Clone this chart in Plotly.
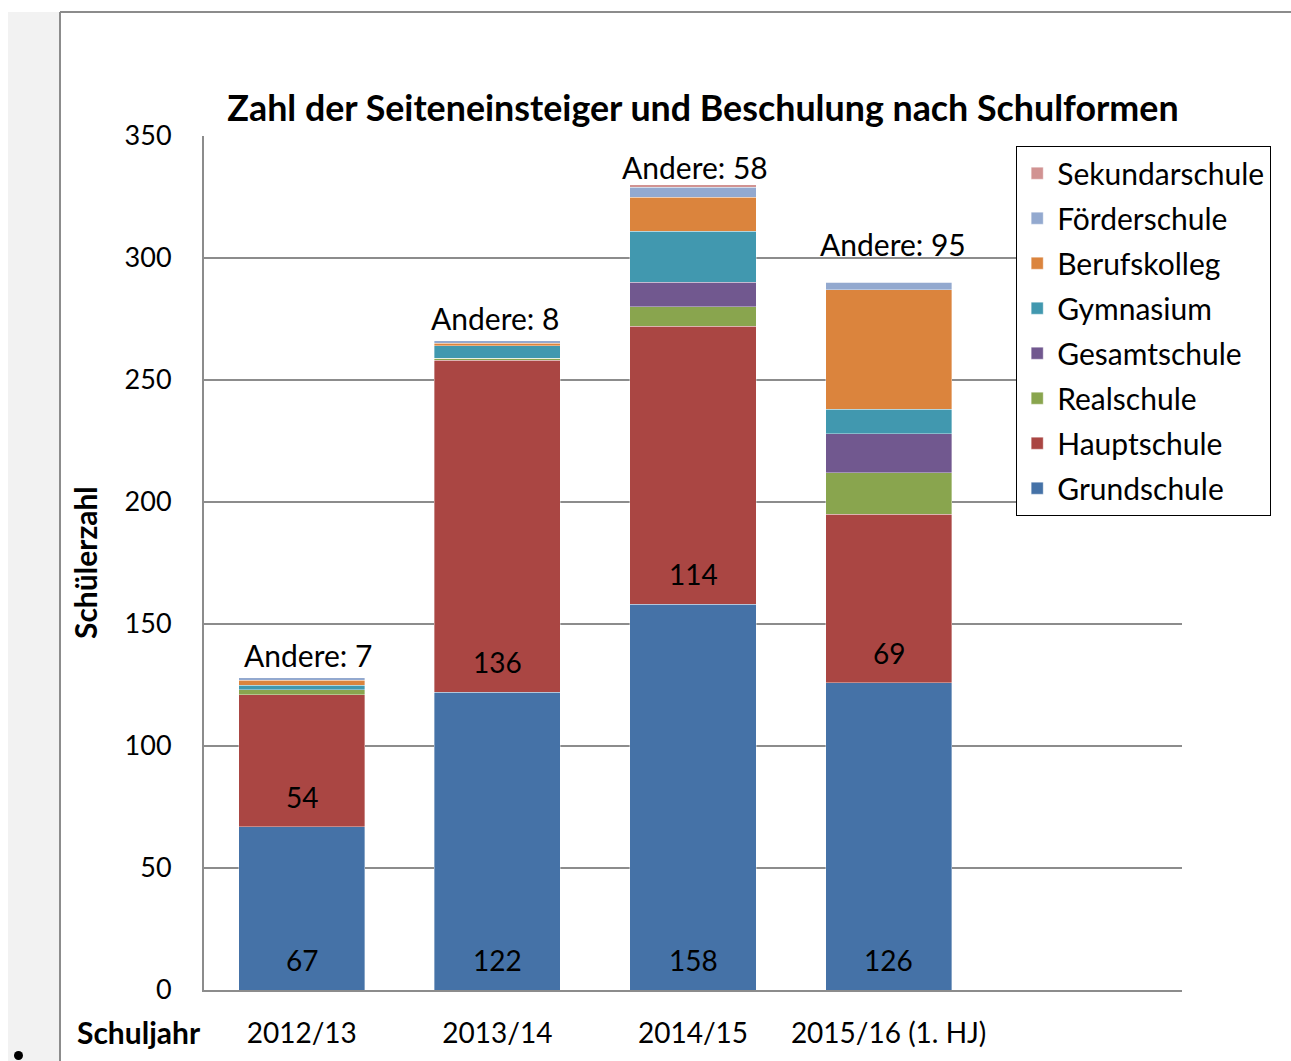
import plotly.graph_objects as go

categories = ["2012/13", "2013/14", "2014/15", "2015/16 (1. HJ)", ""]
grundschule = [67, 122, 158, 126]
hauptschule = [54, 136, 114, 69]
realschule = [2, 1, 8, 17]
gesamtschule = [0, 0, 10, 16]
gymnasium = [2, 5, 21, 10]
berufskolleg = [2, 1, 14, 49]
foerderschule = [1, 1, 4, 3]
sekundarschule = [0, 0, 1, 0]

series = [
    ("Grundschule", grundschule, "#4572A7"),
    ("Hauptschule", hauptschule, "#AA4643"),
    ("Realschule", realschule, "#89A54E"),
    ("Gesamtschule", gesamtschule, "#71588F"),
    ("Gymnasium", gymnasium, "#4198AF"),
    ("Berufskolleg", berufskolleg, "#DB843D"),
    ("Förderschule", foerderschule, "#93A9CF"),
    ("Sekundarschule", sekundarschule, "#D19392"),
]

W, H = 1291, 1061
L, R, T, B = 204, 1182, 136, 990
FONT = "Lato"


def px(x):
    return (x - L) / (R - L)


def py(y):
    return (B - y) / (B - T)


fig = go.Figure()
cats = categories[:4]
n = len(series)
for idx, (name, vals, color) in enumerate(series):
    fig.add_trace(go.Bar(
        x=cats, y=vals, name=name, legendgroup=name, legendrank=n - idx,
        marker=dict(color=color, line=dict(width=0.6, color="rgba(255,255,255,0.6)")),
        hoverinfo="name+y",
    ))

# inner value labels (Grundschule at base, Hauptschule at its base)
for i in range(4):
    fig.add_annotation(x=cats[i], y=0, text=str(grundschule[i]), showarrow=False,
                       xanchor="center", yanchor="middle", yshift=30,
                       font=dict(family=FONT, size=28, color="black"))
    fig.add_annotation(x=cats[i], y=grundschule[i], text=str(hauptschule[i]), showarrow=False,
                       xanchor="center", yanchor="middle", yshift=30,
                       font=dict(family=FONT, size=28, color="black"))

others = []
for i in range(4):
    others.append(realschule[i] + gesamtschule[i] + gymnasium[i] + berufskolleg[i]
                  + foerderschule[i] + sekundarschule[i])
totals = [grundschule[i] + hauptschule[i] + others[i] for i in range(4)]

label_shift = [(6, 23), (-2, 23), (2, 18), (4, 38)]
for i in range(4):
    fig.add_annotation(
        x=cats[i], y=totals[i], text=f"Andere: {others[i]}",
        showarrow=False, xanchor="center", yanchor="middle",
        xshift=label_shift[i][0], yshift=label_shift[i][1],
        font=dict(family=FONT, size=30, color="black"),
    )

fig.add_annotation(
    x=px(139), y=py(1032), xref="paper", yref="paper", text="<b>Schuljahr</b>",
    showarrow=False, xanchor="center", yanchor="middle",
    font=dict(family=FONT, size=30, color="black"),
)
fig.add_annotation(
    x=px(85), y=py(563), xref="paper", yref="paper", text="<b>Schülerzahl</b>",
    showarrow=False, xanchor="center", yanchor="middle", textangle=-90,
    font=dict(family=FONT, size=30, color="black"),
)

shapes = [
    dict(type="rect", xref="paper", yref="paper", x0=px(8), x1=px(59), y0=py(12), y1=py(1061),
         fillcolor="#f2f2f2", line=dict(width=0), layer="below"),
    dict(type="line", xref="paper", yref="paper", x0=px(60), x1=px(60), y0=py(12), y1=py(1061),
         line=dict(color="#8c8c8c", width=2)),
    dict(type="line", xref="paper", yref="paper", x0=px(60), x1=px(1291), y0=py(12), y1=py(12),
         line=dict(color="#8c8c8c", width=2)),
    dict(type="circle", xref="paper", yref="paper", x0=px(14), x1=px(23), y0=py(1051), y1=py(1060),
         fillcolor="black", line=dict(width=0)),
]

fig.update_layout(
    width=W, height=H,
    margin=dict(l=L, r=W - R, t=T, b=H - B, pad=0, autoexpand=False),
    paper_bgcolor="white", plot_bgcolor="white",
    barmode="stack", bargap=0.355,
    shapes=shapes,
    title=dict(text="<b>Zahl der Seiteneinsteiger und Beschulung nach Schulformen</b>",
               x=703 / W, xanchor="center", y=1 - 108 / H, yanchor="middle",
               font=dict(family=FONT, size=35.8, color="black")),
    xaxis=dict(categoryorder="array", categoryarray=categories, range=[-0.5, 4.5],
               showline=True, linecolor="#8c8c8c", linewidth=2, ticks="",
               tickfont=dict(family=FONT, size=28, color="black"), ticklabelstandoff=17,
               showgrid=False, fixedrange=True, automargin=False),
    yaxis=dict(range=[0, 350], dtick=50, showline=True, linecolor="#8c8c8c", linewidth=2,
               gridcolor="#8c8c8c", gridwidth=1.5, zeroline=False, ticks="",
               tickfont=dict(family=FONT, size=27, color="black"), ticklabelstandoff=25,
               automargin=False),
    legend=dict(x=px(1016), y=py(146), xanchor="left", yanchor="top",
                traceorder="grouped", bordercolor="black", borderwidth=1.2, bgcolor="white",
                font=dict(family=FONT, size=30, color="black"), itemwidth=30,
                tracegroupgap=3),
    showlegend=True,
)

fig.write_html("out.html", config={"displayModeBar": False},
               post_script="document.body.style.margin='0';document.body.style.overflow='hidden';")
